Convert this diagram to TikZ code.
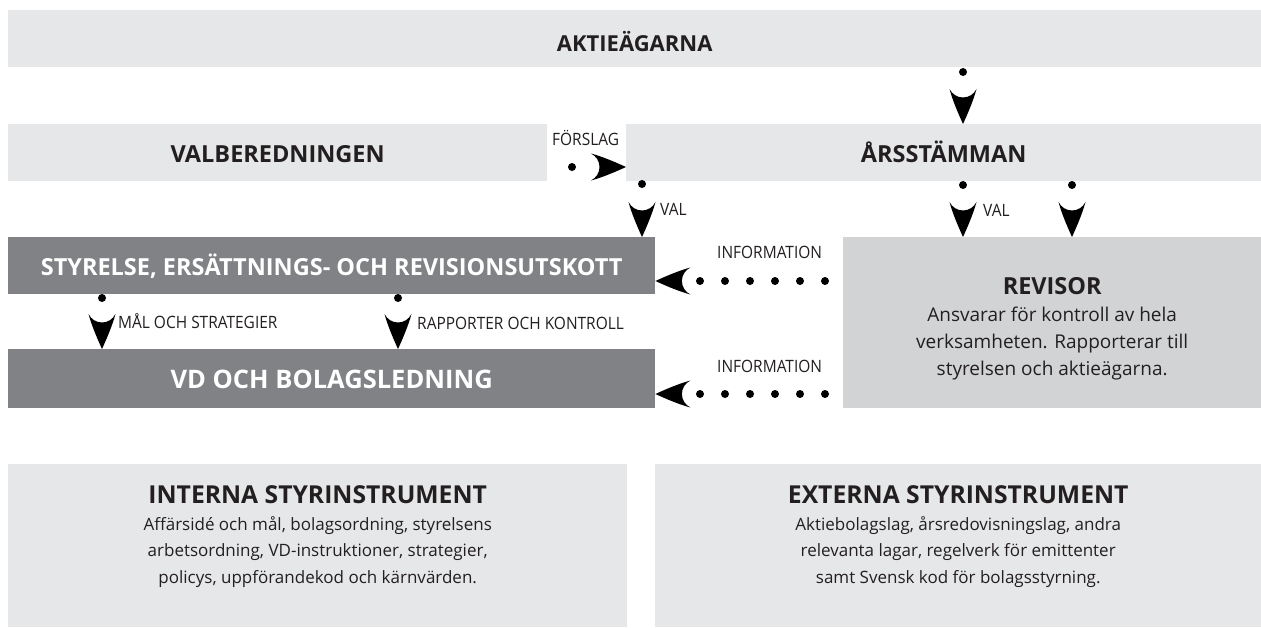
\documentclass[tikz,border=0pt]{standalone}
\usepackage{fontspec}
\setmainfont{Open Sans}
\newfontfamily\condfont[FakeStretch=0.91]{Open Sans}
\usetikzlibrary{calc}

\definecolor{paleg}{HTML}{E6E7E8}
\definecolor{midg}{HTML}{D1D3D4}
\definecolor{darkg}{HTML}{808285}
\definecolor{ink}{HTML}{231F20}

% Black arrowhead with a rounded notch in its back
\pgfdeclarearrow{
  name = Swoop,
  setup code = {
    \pgfarrowssettipend{0pt}
    \pgfarrowssetlineend{-26pt}
    \pgfarrowssetvisualbackend{-35pt}
    \pgfarrowssetbackend{-35pt}
    \pgfarrowshullpoint{0pt}{0pt}
    \pgfarrowsupperhullpoint{-35pt}{13pt}
  },
  drawing code = {
    \pgfpathmoveto{\pgfqpoint{0pt}{0pt}}
    \pgfpathcurveto{\pgfqpoint{-12pt}{5.5pt}}{\pgfqpoint{-24pt}{10.5pt}}{\pgfqpoint{-35pt}{13.5pt}}
    \pgfpathcurveto{\pgfqpoint{-30pt}{11pt}}{\pgfqpoint{-26.5pt}{6pt}}{\pgfqpoint{-26.5pt}{0pt}}
    \pgfpathcurveto{\pgfqpoint{-26.5pt}{-6pt}}{\pgfqpoint{-30pt}{-11pt}}{\pgfqpoint{-35pt}{-13.5pt}}
    \pgfpathcurveto{\pgfqpoint{-24pt}{-10.5pt}}{\pgfqpoint{-12pt}{-5.5pt}}{\pgfqpoint{0pt}{0pt}}
    \pgfpathclose
    \pgfusepathqfill
  }
}

\newcommand{\titlefont}[1]{\fontsize{#1}{27}\selectfont\bfseries}

\tikzset{
  box/.style={anchor=north west, inner sep=0pt, align=center, text=ink},
  headfont/.style={font=\titlefont{23.5}, text height=18.8pt, text depth=0pt},
  blocktext/.style={inner sep=0pt, align=center, text=ink},
  bodyfont/.style={font=\fontsize{19}{27}\selectfont},
  smallbody/.style={font=\fontsize{17}{26.5}\selectfont},
  tag/.style={anchor=base west, inner sep=0pt, text=ink, font=\condfont\fontsize{17}{20}\selectfont},
  bullet/.style={line width=8pt, line cap=round, dash pattern=on 0pt off 300pt, -Swoop},
  dotrow/.style={bullet, dash pattern=on 0pt off 25pt}
}

\begin{document}
\begin{tikzpicture}[x=1pt, y=-1pt]
\useasboundingbox (0,0) rectangle (1261,627);

% boxes
\node[box, headfont, font=\titlefont{22}, text height=24.7pt, fill=paleg, minimum width=1253pt, minimum height=57pt] (owners) at (8,10) {AKTIEÄGARNA};
\node[box, headfont, fill=paleg, minimum width=539pt, minimum height=57pt] (nomcom) at (8,124) {VALBEREDNINGEN};
\node[box, headfont, fill=paleg, minimum width=635pt, minimum height=57pt] (agm) at (626,124) {ÅRSSTÄMMAN};
\node[box, headfont, fill=darkg, text=white, minimum width=647pt, minimum height=57pt] (board) at (8,237) {STYRELSE, ERSÄTTNINGS- OCH REVISIONSUTSKOTT};
\node[box, headfont, font=\titlefont{25.5}, text height=20.2pt, fill=darkg, text=white, minimum width=647pt, minimum height=59pt] (mgmt) at (8,349) {VD OCH BOLAGSLEDNING};
\node[box, fill=midg, minimum width=418pt, minimum height=171pt] (auditor) at (843,237) {};
\node[box, fill=paleg, minimum width=619pt, minimum height=163pt] (internal) at (8,464) {};
\node[box, fill=paleg, minimum width=606pt, minimum height=163pt] (external) at (655,464) {};

% box texts
\node[blocktext, bodyfont] (auditortext) at ($(auditor.center)+(0,6)$)
  {{\titlefont{23.5}REVISOR}\\Ansvarar för kontroll av hela\\verksamheten. Rapporterar till\\styrelsen och aktieägarna.};
\node[blocktext, smallbody] (internaltext) at ($(internal.center)+(0,-9)$)
  {{\titlefont{24.7}INTERNA STYRINSTRUMENT}\\Affärsidé och mål, bolagsordning, styrelsens\\arbetsordning, VD-instruktioner, strategier,\\policys, uppförandekod och kärnvärden.};
\node[blocktext, smallbody] (externaltext) at ($(external.center)+(0,-9)$)
  {{\titlefont{24.7}EXTERNA STYRINSTRUMENT}\\Aktiebolagslag, årsredovisningslag, andra\\relevanta lagar, regelverk för emittenter\\samt Svensk kod för bolagsstyrning.};

% free ends of the connectors (the bullets)
\coordinate (d1) at (963,72);
\coordinate (d2) at (572,167);
\coordinate (d3) at (642,184);
\coordinate (d4) at (963,185);
\coordinate (d5) at (1072,185);
\coordinate (d6) at (102,298);
\coordinate (d7) at (398,298);
\coordinate (d8) at (825,281);
\coordinate (d9) at (825,394);

% connectors
\draw[bullet] (d1) -- (d1 |- agm.north);
\draw[bullet] (d2) -- (agm.west |- d2);
\draw[bullet] (d3) -- (d3 |- board.north);
\draw[bullet] (d4) -- (d4 |- auditor.north);
\draw[bullet] (d5) -- (d5 |- auditor.north);
\draw[bullet] (d6) -- (d6 |- mgmt.north);
\draw[bullet] (d7) -- (d7 |- mgmt.north);
\draw[dotrow] (d8) -- (board.east |- d8);
\draw[dotrow] (d9) -- (mgmt.east |- d9);

% connector labels
\node[tag] (lprop) at (552,145) {FÖRSLAG};
\node[tag] (lval1) at (660,215) {VAL};
\node[tag] (lval2) at (983,216) {VAL};
\node[tag] (linfo1) at (717,258) {INFORMATION};
\node[tag] (linfo2) at (717,372) {INFORMATION};
\node[tag] (lgoal) at (118,328) {MÅL OCH STRATEGIER};
\node[tag] (lrep) at (417,329) {RAPPORTER OCH KONTROLL};
\end{tikzpicture}
\end{document}
